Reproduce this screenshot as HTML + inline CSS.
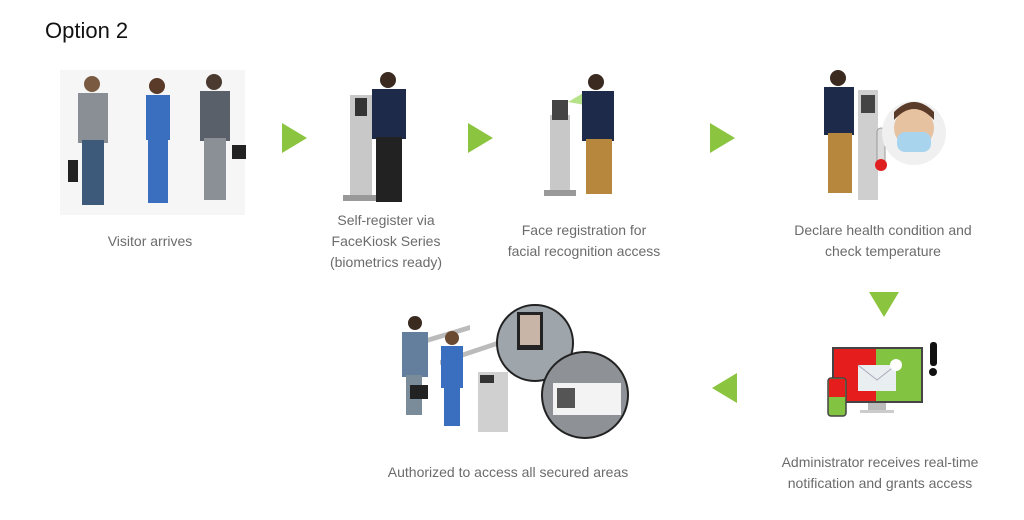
<!DOCTYPE html>
<html><head><meta charset="utf-8"><style>
body{margin:0;background:#fff;width:1024px;height:520px;overflow:hidden;position:relative;font-family:"Liberation Sans",sans-serif}
.t{position:absolute;color:#6b6b6b;font-size:14px;text-align:center;line-height:21px;white-space:nowrap}
</style></head><body>
<div style="position:absolute;left:45px;top:18px;font-size:22px;color:#111">Option 2</div>
<svg width="1024" height="520" style="position:absolute;left:0;top:0">
<g fill="#8bc53f">
<polygon points="282,123 282,153 307,138"/>
<polygon points="468,123 468,153 493,138"/>
<polygon points="710,123 710,153 735,138"/>
<polygon points="869,292 899,292 884,317"/>
<polygon points="737,373 737,403 712,388"/>
</g>
<!-- visitors -->
<g>
<rect x="60" y="70" width="185" height="145" fill="#f6f6f6"/>
<circle cx="92" cy="84" r="8" fill="#7a5a40"/><rect x="78" y="93" width="30" height="50" fill="#8a8f96"/><rect x="82" y="140" width="22" height="65" fill="#3d5a7a"/>
<circle cx="157" cy="86" r="8" fill="#5a3a28"/><rect x="146" y="95" width="24" height="45" fill="#3a6fc0"/><rect x="148" y="138" width="20" height="65" fill="#3a6fc0"/>
<circle cx="214" cy="82" r="8" fill="#4a3a30"/><rect x="200" y="91" width="30" height="50" fill="#59606a"/><rect x="204" y="138" width="22" height="62" fill="#8a9096"/>
<rect x="232" y="145" width="14" height="14" fill="#222"/><rect x="68" y="160" width="10" height="22" fill="#222"/>
</g>
<!-- kiosk 1 -->
<g><rect x="350" y="95" width="22" height="105" fill="#c8c8c8"/><rect x="355" y="98" width="12" height="18" fill="#333"/><rect x="343" y="195" width="36" height="6" fill="#999"/>
<circle cx="388" cy="80" r="8" fill="#3a2a20"/><rect x="372" y="89" width="34" height="50" fill="#1e2a4a"/><rect x="376" y="137" width="26" height="65" fill="#222"/></g>
<!-- kiosk 2 -->
<g><rect x="550" y="115" width="20" height="80" fill="#c8c8c8"/><rect x="552" y="100" width="16" height="20" fill="#444"/><rect x="544" y="190" width="32" height="6" fill="#999"/>
<polygon points="568,102 585,92 585,105" fill="#b6e28a"/>
<circle cx="596" cy="82" r="8" fill="#3a2a20"/><rect x="582" y="91" width="32" height="50" fill="#1e2a4a"/><rect x="586" y="139" width="26" height="55" fill="#b8873e"/></g>
<!-- health -->
<g><rect x="858" y="90" width="20" height="110" fill="#cfcfcf"/><rect x="861" y="95" width="14" height="18" fill="#444"/>
<circle cx="838" cy="78" r="8" fill="#3a2a20"/><rect x="824" y="87" width="30" height="48" fill="#1e2a4a"/><rect x="828" y="133" width="24" height="60" fill="#b8873e"/>
<rect x="877" y="128" width="8" height="36" rx="4" fill="#ddd" stroke="#999"/><circle cx="881" cy="165" r="6" fill="#e02020"/>
<circle cx="914" cy="133" r="32" fill="#f0f0f0"/><circle cx="914" cy="128" r="20" fill="#e7c2a0"/><rect x="897" y="132" width="34" height="20" rx="8" fill="#a9d4ee"/><path d="M894 120 Q914 98 934 120 L934 112 Q914 92 894 112Z" fill="#5a3a28"/></g>
<!-- admin -->
<g><rect x="833" y="348" width="89" height="54" fill="#e51d1d" stroke="#444" stroke-width="2"/><rect x="876" y="349" width="45" height="52" fill="#82c341"/>
<rect x="858" y="365" width="38" height="26" fill="#e9eef0"/><polyline points="858,365 877,380 896,365" fill="none" stroke="#aab" stroke-width="1"/>
<circle cx="896" cy="365" r="6" fill="#fff"/><rect x="868" y="403" width="18" height="8" fill="#bbb"/><rect x="860" y="410" width="34" height="3" fill="#ccc"/>
<rect x="828" y="378" width="18" height="38" rx="3" fill="#82c341" stroke="#444" stroke-width="1.5"/><rect x="829" y="379" width="16" height="18" fill="#e51d1d"/>
<rect x="930" y="342" width="7" height="24" rx="3" fill="#111"/><circle cx="933" cy="372" r="4" fill="#111"/></g>
<!-- gates -->
<g><polygon points="420,340 470,325 470,330 420,345" fill="#bbb"/><polygon points="440,360 500,340 500,345 440,365" fill="#bbb"/>
<rect x="478" y="372" width="30" height="60" fill="#d0d0d0"/><rect x="480" y="375" width="14" height="8" fill="#333"/>
<circle cx="415" cy="323" r="7" fill="#3a2a20"/><rect x="402" y="332" width="26" height="45" fill="#647f9e"/><rect x="406" y="375" width="16" height="40" fill="#7a8c9a"/><rect x="410" y="385" width="18" height="14" fill="#222"/>
<circle cx="452" cy="338" r="7" fill="#6a4a30"/><rect x="441" y="346" width="22" height="42" fill="#3a6fc0"/><rect x="444" y="386" width="16" height="40" fill="#3a6fc0"/>
<circle cx="535" cy="343" r="38" fill="#9ea6ac" stroke="#222" stroke-width="2"/><rect x="517" y="312" width="26" height="38" fill="#222"/><rect x="520" y="315" width="20" height="30" fill="#c9b5a8"/>
<circle cx="585" cy="395" r="43" fill="#8e9296" stroke="#222" stroke-width="2"/><rect x="553" y="383" width="68" height="32" fill="#f3f3f3"/><rect x="557" y="388" width="18" height="20" fill="#555"/></g>
</svg>
<div class="t" style="left:150px;top:231px;transform:translateX(-50%)">Visitor arrives</div>
<div class="t" style="left:386px;top:210px;transform:translateX(-50%)">Self-register via<br>FaceKiosk Series<br>(biometrics ready)</div>
<div class="t" style="left:584px;top:220px;transform:translateX(-50%)">Face registration for<br>facial recognition access</div>
<div class="t" style="left:883px;top:220px;transform:translateX(-50%)">Declare health condition and<br>check temperature</div>
<div class="t" style="left:880px;top:452px;transform:translateX(-50%)">Administrator receives real-time<br>notification and grants access</div>
<div class="t" style="left:508px;top:462px;transform:translateX(-50%)">Authorized to access all secured areas</div>
</body></html>
